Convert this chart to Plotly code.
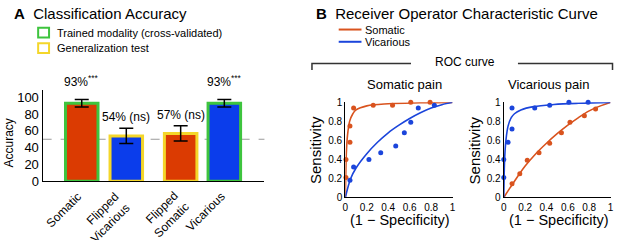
import plotly.graph_objects as go

# ---------------- data ----------------
categories = ["Somatic", "Flipped<br>Vicarious", "Flipped<br>Somatic", "Vicarious"]
accuracy = [93, 54, 57, 93]
accuracy_err = [4.5, 9, 9, 4.5]
bar_labels = ["93%<sup>***</sup>", "54% (ns)", "57% (ns)", "93%<sup>***</sup>"]
test_type = ["trained", "general", "general", "trained"]
bar_modality = ["somatic", "vicarious", "somatic", "vicarious"]

# ROC: Somatic pain panel
sp_som_fpr = [0.006, 0.006, 0.043, 0.043, 0.077, 0.26, 0.44, 0.61, 0.79]
sp_som_tpr = [0.21, 0.40, 0.58, 0.75, 0.94, 0.97, 0.97, 1.0, 1.0]
sp_vic_fpr = [0.043, 0.077, 0.22, 0.33, 0.47, 0.55, 0.61, 0.68, 0.83]
sp_vic_tpr = [0.18, 0.32, 0.40, 0.47, 0.54, 0.68, 0.79, 0.94, 0.97]
sp_som_fit_x = [0, 0.005, 0.01, 0.02, 0.04, 0.07, 0.1, 0.2, 0.4, 0.7, 1.0]
sp_som_fit_y = [0, 0.30, 0.48, 0.65, 0.80, 0.88, 0.92, 0.963, 0.985, 0.995, 1.0]
sp_vic_fit_x = [0, 0.05, 0.1, 0.2, 0.3, 0.4, 0.5, 0.6, 0.7, 0.8, 0.9, 1.0]
sp_vic_fit_y = [0, 0.20, 0.31, 0.46, 0.58, 0.68, 0.76, 0.83, 0.89, 0.94, 0.975, 1.0]

# ROC: Vicarious pain panel
vp_vic_fpr = [0.0, 0.0, 0.04, 0.077, 0.077, 0.29, 0.43, 0.61, 0.79]
vp_vic_tpr = [0.21, 0.40, 0.58, 0.72, 0.94, 0.94, 0.97, 1.0, 1.0]
vp_som_fpr = [0.077, 0.15, 0.22, 0.33, 0.43, 0.54, 0.62, 0.755, 0.86]
vp_som_tpr = [0.145, 0.25, 0.39, 0.47, 0.57, 0.68, 0.79, 0.86, 0.93]
vp_vic_fit_x = [0, 0.005, 0.01, 0.02, 0.04, 0.07, 0.1, 0.16, 0.28, 0.47, 0.7, 1.0]
vp_vic_fit_y = [0, 0.30, 0.45, 0.60, 0.75, 0.84, 0.88, 0.92, 0.955, 0.977, 0.99, 1.0]
vp_som_fit_x = [0, 0.1, 0.2, 0.3, 0.4, 0.5, 0.6, 0.7, 0.8, 0.9, 1.0]
vp_som_fit_y = [0, 0.17, 0.33, 0.46, 0.57, 0.67, 0.76, 0.84, 0.91, 0.96, 1.0]

roc_ticks = [0, 0.2, 0.4, 0.6, 0.8, 1]
roc_ticktext = ["0", "0.2", "0.4", "0.6", "0.8", "1"]
acc_ticks = [0, 20, 40, 60, 80, 100]

# ---------------- styles ----------------
W, H = 617, 240
FONT = "Liberation Sans, Arial, Helvetica, sans-serif"
RED_BAR = "#DB3B02"
BLUE_BAR = "#0B3DEB"
GREEN = "#3EC43E"
YELLOW = "#F4D62A"
RED = "#D9531E"
BLUE = "#1B45DB"
fill_map = {"somatic": RED_BAR, "vicarious": BLUE_BAR}
edge_map = {"trained": GREEN, "general": YELLOW}
bar_slots = [0, 1, 2.22, 3.2]
label_shift = [8, 2, 2, 8]
cat_xshift = [5, 9, 14, 6]


def px(x):
    return x / W


def py(y):
    return 1 - y / H


fig = go.Figure()

fig.add_trace(go.Bar(
    x=bar_slots, y=accuracy, width=0.73,
    marker=dict(color=[fill_map[m] for m in bar_modality],
                line=dict(color=[edge_map[t] for t in test_type], width=3)),
    error_y=dict(type="data", array=accuracy_err, color="black", thickness=1.5, width=7),
    xaxis="x", yaxis="y", showlegend=False,
))


def roc_traces(xa, ya, fits, pts):
    for fx, fy, c in fits:
        fig.add_trace(go.Scatter(x=fx, y=fy, mode="lines", line=dict(color=c, width=1.6, shape="spline", smoothing=1.0),
                                 xaxis=xa, yaxis=ya, showlegend=False, cliponaxis=False))
    for px_, py_, c in pts:
        fig.add_trace(go.Scatter(x=px_, y=py_, mode="markers", marker=dict(color=c, size=5),
                                 xaxis=xa, yaxis=ya, showlegend=False, cliponaxis=False))


roc_traces("x2", "y2",
           [(sp_som_fit_x, sp_som_fit_y, RED), (sp_vic_fit_x, sp_vic_fit_y, BLUE)],
           [(sp_som_fpr, sp_som_tpr, RED), (sp_vic_fpr, sp_vic_tpr, BLUE)])
roc_traces("x3", "y3",
           [(vp_som_fit_x, vp_som_fit_y, RED), (vp_vic_fit_x, vp_vic_fit_y, BLUE)],
           [(vp_vic_fpr, vp_vic_tpr, BLUE), (vp_som_fpr, vp_som_tpr, RED)])

axis_common = dict(showline=True, linecolor="black", linewidth=1.3, ticks="", showgrid=False,
                   zeroline=False, fixedrange=True)
roc_y_dom = [py(203.3), py(102.3)]

fig.update_layout(
    width=W, height=H, margin=dict(l=0, r=0, t=0, b=0),
    paper_bgcolor="white", plot_bgcolor="white",
    font=dict(family=FONT, color="black"),
    xaxis=dict(domain=[px(40), px(264)], range=[-0.878, 4.1], tickvals=bar_slots, showticklabels=False,
               **axis_common),
    yaxis=dict(domain=[py(186), py(89)], range=[0, 109], tickvals=acc_ticks, tickfont=dict(size=13),
               anchor="x", **axis_common),
    xaxis2=dict(domain=[px(345.7), px(454)], range=[0, 1], tickvals=roc_ticks, ticktext=roc_ticktext,
                tickfont=dict(size=10), anchor="y2", ticklabelstandoff=0, **axis_common),
    yaxis2=dict(domain=roc_y_dom, range=[0, 1], tickvals=roc_ticks, ticktext=roc_ticktext,
                tickfont=dict(size=10), anchor="x2", **axis_common),
    xaxis3=dict(domain=[px(505.7), px(613.5)], range=[0, 1], tickvals=roc_ticks, ticktext=roc_ticktext,
                tickfont=dict(size=10), anchor="y3", ticklabelstandoff=0, **axis_common),
    yaxis3=dict(domain=roc_y_dom, range=[0, 1], tickvals=roc_ticks, ticktext=roc_ticktext,
                tickfont=dict(size=10), anchor="x3", **axis_common),
)

shapes = []
# chance line
shapes.append(dict(type="line", xref="x domain", yref="y", x0=0, x1=1, y0=50, y1=50,
                   line=dict(color="#9A9A9A", width=1.2, dash="dash"), layer="below"))
# legend A boxes
for (y0, col) in [(23, GREEN), (39.5, YELLOW)]:
    shapes.append(dict(type="rect", xref="paper", yref="paper", x0=px(35.5), x1=px(46.5),
                       y0=py(y0), y1=py(y0 + 10.5), line=dict(color=col, width=2)))
# legend B lines
for (yy, col) in [(25, RED), (38, BLUE)]:
    shapes.append(dict(type="line", xref="paper", yref="paper", x0=px(339), x1=px(362),
                       y0=py(yy), y1=py(yy), line=dict(color=col, width=2)))
# bracket
br = dict(color="#333333", width=1.5)
shapes += [
    dict(type="path", xref="paper", yref="paper",
         path=f"M {px(312)},{py(68)} L {px(312)},{py(61)} L {px(412)},{py(61)}", line=br),
    dict(type="path", xref="paper", yref="paper",
         path=f"M {px(520)},{py(61)} L {px(615.5)},{py(61)} L {px(615.5)},{py(68)}", line=br),
]
fig.update_layout(shapes=shapes)

ann = []


def txt(text, x, y, size, xanchor="center", angle=0, **kw):
    ann.append(dict(text=text, x=px(x), y=py(y), xref="paper", yref="paper", showarrow=False,
                    xanchor=xanchor, yanchor="middle", textangle=angle,
                    font=dict(size=size, family=FONT, color="black"), **kw))


txt("<b>A</b>  Classification Accuracy", 9, 8, 15, xanchor="left")
txt("<b>B</b>  Receiver Operator Characteristic Curve", 314, 8, 15, xanchor="left")
txt("Trained modality (cross-validated)", 53, 28.5, 11, xanchor="left")
txt("Generalization test", 53, 44.5, 11, xanchor="left")
txt("Somatic", 364, 25, 11, xanchor="left")
txt("Vicarious", 364, 38, 11, xanchor="left")
txt("ROC curve", 467, 59, 12)
txt("Somatic pain", 405, 83, 13)
txt("Vicarious pain", 551, 83, 13)
txt("Accuracy", 6, 145, 12, angle=-90)
txt("Sensitivity", 315, 153, 15, angle=-90)
txt("Sensitivity", 476, 153, 15, angle=-90)
txt("(1 − Specificity)", 401, 227.5, 14.5)
txt("(1 − Specificity)", 561, 227.5, 14.5)

for xs, v, e, lab, sh in zip(bar_slots, accuracy, accuracy_err, bar_labels, label_shift):
    ann.append(dict(text=lab, x=xs, y=v + e, xref="x", yref="y", showarrow=False, yanchor="bottom",
                    yshift=sh, font=dict(size=12, family=FONT, color="black")))

# rotated category labels under the bars
for xs, cat, xsh in zip(bar_slots, categories, cat_xshift):
    ann.append(dict(text=cat, x=xs, y=py(192), xref="x", yref="paper", showarrow=False,
                    xanchor="right", yanchor="top", align="right", textangle=-45, xshift=xsh,
                    font=dict(size=12, family=FONT, color="black")))

fig.update_layout(annotations=ann)
fig.write_html("out.html", config={"displayModeBar": False},
               post_script="document.body.style.margin='0';document.body.style.overflow='hidden';")
